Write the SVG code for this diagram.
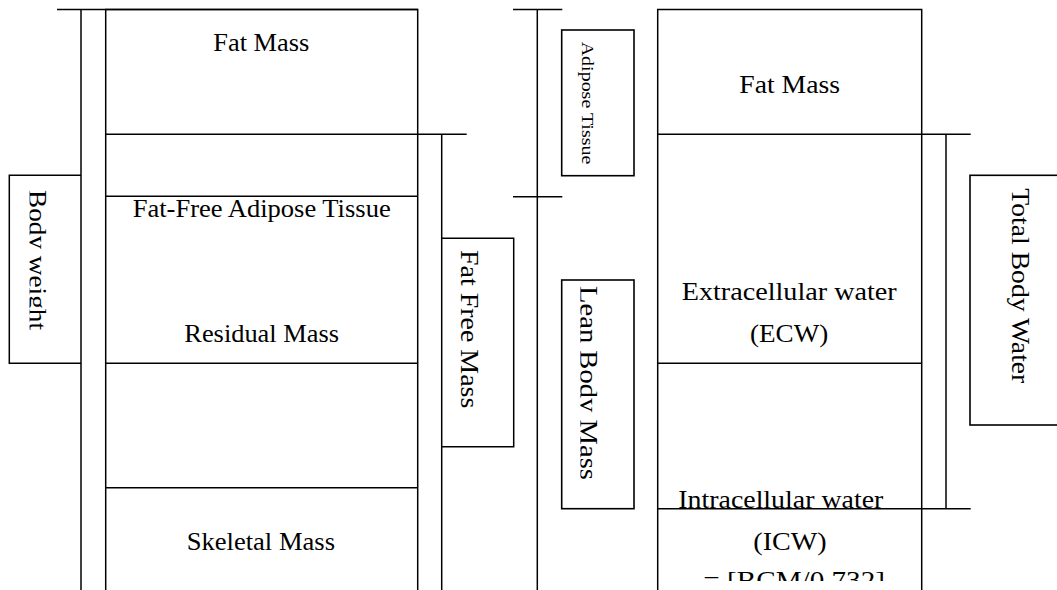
<svg xmlns="http://www.w3.org/2000/svg" width="1057" height="590" viewBox="0 0 1057 590">
<style>
.ln{stroke:#000;stroke-width:1.5;fill:none}
.bx{stroke:#000;stroke-width:1.6;fill:#fff}
.t{font-family:"Liberation Serif","Times New Roman",serif;fill:#000;font-size:26px}
.tr{font-family:"Liberation Serif","Times New Roman",serif;fill:#000;font-size:25px}
.ts{font-family:"Liberation Serif","Times New Roman",serif;fill:#000;font-size:16px}
</style>
<defs>
<clipPath id="clipBW" clipPathUnits="userSpaceOnUse"><rect x="29.5" y="176" width="51" height="187"/></clipPath>
<clipPath id="clipLBM" clipPathUnits="userSpaceOnUse"><rect x="580.3" y="281" width="53" height="227"/></clipPath>
<clipPath id="clipBot" clipPathUnits="userSpaceOnUse"><rect x="658" y="510" width="263" height="71"/></clipPath>
</defs>
<rect width="1057" height="590" fill="#fff"/>

<g id="connectors">
<line class="ln" x1="57" y1="9.5" x2="418" y2="9.5"/>
<line class="ln" x1="81" y1="9.5" x2="81" y2="590"/>
<line class="ln" x1="441.7" y1="134.3" x2="441.7" y2="590"/>
<line class="ln" x1="417.7" y1="134.3" x2="466.7" y2="134.3"/>
<line class="ln" x1="537.3" y1="9.5" x2="537.3" y2="590"/>
<line class="ln" x1="513" y1="9.5" x2="562.3" y2="9.5"/>
<line class="ln" x1="513" y1="196.7" x2="562.3" y2="196.7"/>
<line class="ln" x1="921.7" y1="134.3" x2="970.7" y2="134.3"/>
<line class="ln" x1="921.7" y1="508.7" x2="970.7" y2="508.7"/>
<line class="ln" x1="946" y1="134.3" x2="946" y2="508.7"/>
</g>

<g id="left-column">
<path class="ln" d="M105.7 590 V9.5 H417.7 V590"/>
<line class="ln" x1="105.7" y1="134.3" x2="417.7" y2="134.3"/>
<line class="ln" x1="105.7" y1="196.3" x2="417.7" y2="196.3"/>
<line class="ln" x1="105.7" y1="363.3" x2="417.7" y2="363.3"/>
<line class="ln" x1="105.7" y1="487.7" x2="417.7" y2="487.7"/>
</g>
<g id="fat-mass-left"><text class="t" x="213.3" y="51" textLength="96" lengthAdjust="spacingAndGlyphs">Fat Mass</text></g>
<g id="ffat"><text class="t" x="132.7" y="216.7" textLength="258" lengthAdjust="spacingAndGlyphs">Fat-Free Adipose Tissue</text></g>
<g id="residual"><text class="t" x="184.3" y="341.7" textLength="154.7" lengthAdjust="spacingAndGlyphs">Residual Mass</text></g>
<g id="skeletal"><text class="t" x="186.7" y="550" textLength="148.3" lengthAdjust="spacingAndGlyphs">Skeletal Mass</text></g>

<g id="body-weight">
<path class="ln" d="M81 175.3 H9.3 V363.3 H81"/>
<g clip-path="url(#clipBW)"><text class="t" font-size="27" transform="translate(29.3,190) rotate(90)" textLength="140" lengthAdjust="spacingAndGlyphs">Body weight</text></g>
</g>

<g id="fat-free-mass">
<path class="ln" d="M441.7 238.3 H513.7 V446.7 H441.7"/>
<text class="tr" transform="translate(460.5,250) rotate(90)" textLength="158.3" lengthAdjust="spacingAndGlyphs">Fat Free Mass</text>
</g>

<g id="adipose-tissue">
<rect class="bx" x="561.7" y="30" width="72.3" height="145.7"/>
<text class="ts" transform="translate(581.5,41.7) rotate(90)" textLength="122.6" lengthAdjust="spacingAndGlyphs">Adipose Tissue</text>
</g>

<g id="lean-body-mass">
<rect class="bx" x="561.7" y="280" width="72.3" height="228.7"/>
<g clip-path="url(#clipLBM)"><text class="t" transform="translate(580.3,286) rotate(90)" textLength="194" lengthAdjust="spacingAndGlyphs">Lean Body Mass</text></g>
</g>

<g id="right-column">
<path class="ln" d="M657.7 590 V9.5 H921.7 V590"/>
<line class="ln" x1="657.7" y1="134.3" x2="921.7" y2="134.3"/>
<line class="ln" x1="657.7" y1="363.3" x2="921.7" y2="363.3"/>
<line class="ln" x1="657.7" y1="508.7" x2="921.7" y2="508.7"/>
</g>
<g id="fat-mass-right"><text class="tr" x="739.3" y="92.5" textLength="100.7" lengthAdjust="spacingAndGlyphs">Fat Mass</text></g>
<g id="ecw">
<text class="tr" x="681.7" y="300" textLength="215" lengthAdjust="spacingAndGlyphs">Extracellular water</text>
<text class="tr" x="750" y="341.5" textLength="78.3" lengthAdjust="spacingAndGlyphs">(ECW)</text>
</g>
<g id="icw">
<text class="tr" x="678.3" y="508" textLength="205" lengthAdjust="spacingAndGlyphs">Intracellular water</text>
<text class="tr" x="753.3" y="550" textLength="73.4" lengthAdjust="spacingAndGlyphs">(ICW)</text>
<g clip-path="url(#clipBot)"><text class="t" x="703.3" y="589" textLength="181.7" lengthAdjust="spacingAndGlyphs">= [BCM/0.732]</text></g>
</g>

<g id="total-body-water">
<rect class="bx" x="970" y="175.3" width="90" height="249.7"/>
<text class="tr" font-size="26" transform="translate(1011.5,188.3) rotate(90)" textLength="195" lengthAdjust="spacingAndGlyphs">Total Body Water</text>
</g>
</svg>
